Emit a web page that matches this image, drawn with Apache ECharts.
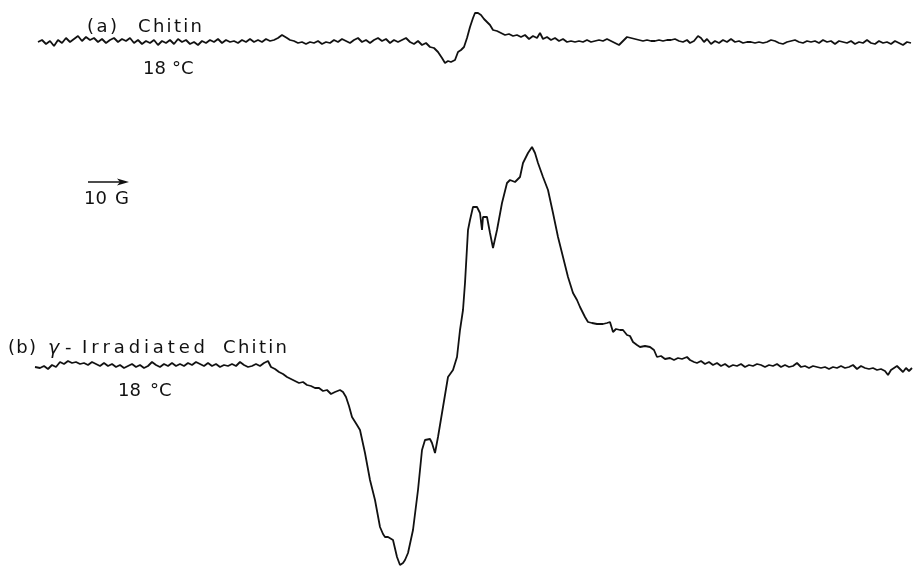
<!DOCTYPE html>
<html><head><meta charset="utf-8">
<script src="https://cdn.jsdelivr.net/npm/echarts@6/dist/echarts.min.js"></script>
<style>html,body{margin:0;padding:0;background:#fff}#c{width:913px;height:568px}</style>
</head><body><div id="c"></div>
<script>
// Field axis in 0.25 G steps (arrow = 10 G = 40 steps); signal in arbitrary units
const specA = [[38,0],[42,2],[46,-2],[50,1],[54,-4],[58,2],[62,-1],[66,4],[70,0],[74,3],[78,6],[82,1],[86,5],[90,2],[94,4],[98,0],[102,3],[106,-1],[110,2],[114,4],[118,0],[122,3],[126,1],[130,4],[134,-1],[138,2],[142,-2],[146,1],[150,-1],[154,2],[158,-3],[162,1],[166,-1],[170,2],[174,-2],[178,3],[182,0],[186,2],[190,-2],[194,0],[198,-3],[202,1],[206,-1],[210,2],[214,0],[218,3],[222,-1],[226,2],[230,0],[234,1],[238,-1],[242,2],[246,0],[250,3],[254,0],[258,2],[262,0],[266,3],[270,1],[274,2],[278,4],[282,7],[284,9],[287,4],[290,2],[294,1],[298,-1],[302,0],[306,-2],[310,0],[314,-1],[318,1],[322,-2],[326,0],[330,-1],[334,2],[338,0],[342,3],[346,1],[350,-1],[354,2],[358,4],[362,0],[366,2],[370,-1],[374,2],[378,4],[382,1],[386,3],[390,-1],[394,2],[398,0],[402,2],[406,4],[410,0],[414,-2],[418,1],[422,-3],[426,-1],[430,-5],[434,-6],[438,-10],[442,-16],[445,-21],[448,-19],[451,-20],[455,-18],[458,-10],[461,-8],[464,-5],[467,4],[470,15],[473,24],[475,29],[478,29],[481,27],[484,23],[487,20],[490,17],[493,12],[497,11],[501,9],[505,7],[509,8],[513,6],[517,7],[521,5],[525,7],[529,3],[533,6],[537,4],[540,9],[543,3],[547,5],[551,2],[555,4],[559,1],[563,3],[567,0],[571,1],[575,0],[579,1],[583,0],[587,2],[591,0],[595,1],[599,2],[603,1],[607,3],[611,1],[615,-1],[619,-3],[623,1],[627,5],[631,4],[635,3],[639,2],[643,1],[647,2],[651,1],[655,1],[659,2],[663,1],[667,2],[671,2],[675,3],[679,1],[683,0],[687,2],[690,-1],[694,1],[698,6],[701,4],[704,0],[707,3],[711,-2],[715,1],[719,-1],[723,2],[727,0],[731,3],[735,0],[739,1],[743,-1],[747,0],[751,0],[755,-1],[759,0],[763,-1],[767,0],[771,2],[775,1],[779,-1],[783,-2],[787,0],[791,1],[795,2],[799,0],[803,-1],[807,1],[811,0],[815,1],[819,-1],[823,2],[827,0],[831,1],[835,-2],[839,1],[843,0],[847,-1],[851,1],[855,-2],[859,0],[863,-1],[867,2],[871,-1],[875,-2],[879,1],[883,-1],[887,0],[891,-2],[895,1],[899,-1],[903,-3],[907,0],[911,-1]];

const specB = [[35,1],[40,0],[44,2],[48,-1],[52,3],[56,1],[60,6],[64,4],[68,7],[72,5],[76,6],[80,4],[84,5],[88,3],[92,6],[96,4],[100,2],[104,5],[108,2],[112,4],[116,1],[120,3],[124,0],[128,2],[132,4],[136,1],[140,3],[144,0],[148,2],[152,6],[156,3],[160,1],[164,4],[168,2],[172,5],[176,2],[180,4],[184,2],[188,5],[192,3],[196,6],[200,4],[204,2],[208,5],[212,2],[216,4],[220,1],[224,3],[228,2],[232,4],[236,2],[240,6],[244,3],[248,1],[252,2],[256,4],[260,2],[264,5],[268,7],[271,1],[275,-1],[279,-4],[283,-6],[287,-9],[291,-11],[295,-13],[299,-15],[303,-14],[307,-17],[311,-18],[315,-20],[319,-20],[323,-23],[327,-22],[331,-26],[335,-24],[340,-22],[343,-24],[346,-29],[349,-38],[352,-49],[357,-57],[360,-62],[365,-85],[370,-112],[375,-132],[380,-159],[383,-166],[385,-169],[388,-169],[390,-170],[393,-172],[395,-174],[397,-189],[400,-197],[403,-195],[405,-192],[408,-185],[413,-162],[418,-122],[422,-82],[425,-72],[427,-70],[430,-71],[432,-75],[435,-85],[438,-69],[443,-39],[448,-9],[453,-2],[457,11],[460,38],[463,58],[465,85],[468,138],[470,148],[473,161],[477,161],[480,155],[482,138],[483,151],[485,152],[487,151],[490,135],[493,120],[497,138],[502,165],[507,185],[510,188],[512,188],[515,186],[517,185],[520,191],[523,205],[528,215],[532,221],[535,215],[538,205],[543,191],[548,178],[553,155],[558,131],[563,111],[568,91],[573,75],[577,68],[580,61],[585,51],[588,46],[592,45],[597,44],[603,44],[607,45],[610,46],[613,36],[616,39],[620,38],[623,38],[627,33],[630,32],[633,26],[637,23],[640,21],[645,22],[650,21],[654,18],[657,11],[661,12],[665,9],[670,10],[674,8],[678,10],[682,9],[687,11],[690,8],[694,6],[697,5],[701,7],[705,4],[709,6],[713,3],[717,5],[721,2],[725,4],[729,1],[733,3],[737,2],[741,4],[745,1],[749,3],[753,2],[757,4],[761,3],[765,1],[769,3],[773,2],[777,4],[781,1],[785,3],[789,1],[793,2],[797,5],[801,1],[805,2],[809,0],[813,2],[817,1],[821,0],[825,1],[829,-1],[833,1],[837,0],[841,2],[845,0],[849,1],[853,3],[857,-1],[861,2],[865,0],[869,-1],[873,0],[877,-2],[881,-1],[885,-3],[888,-7],[891,-2],[894,0],[897,2],[900,-1],[903,-4],[906,0],[909,-3],[912,0]];

const labelA = ['(a)', 'Chitin'];
const labelB = ['(b)', 'γ', '-', 'Irradiated', 'Chitin'];
const tempLabel = ['18', '°C'];
const scaleLabel = ['10', 'G'];

const FAMILY = 'DejaVu Sans';
// draw a word so that it fills [x0, x1] by letter spacing
function word(s, x0, x1, yMid, size, italic) {
  const ctx = document.createElement('canvas').getContext('2d');
  ctx.font = (italic ? 'italic ' : '') + size + 'px "' + FAMILY + '"';
  const chars = s.split('');
  const widths = chars.map(c => ctx.measureText(c).width);
  const total = widths.reduce((a, b) => a + b, 0);
  const gap = chars.length > 1 ? Math.max(0, (x1 - x0 - total) / (chars.length - 1)) : 0;
  const out = [];
  let x = x0;
  chars.forEach((c, i) => {
    out.push({type:'text', x:x, y:yMid, style:{
      text:c, fill:'#111', fontSize:size, fontFamily:FAMILY,
      fontStyle: italic ? 'italic' : 'normal', verticalAlign:'middle', textVerticalAlign:'middle'}});
    x += widths[i] + gap;
  });
  return out;
}

const g = [].concat(
  word(labelA[0], 87, 117, 27, 18),
  word(labelA[1], 138, 202, 27, 18),
  word(tempLabel[0], 143, 162, 69, 18),
  word(tempLabel[1], 172, 191, 69, 18),
  word(scaleLabel[0], 84, 103, 199, 18),
  word(scaleLabel[1], 115, 128, 199, 18),
  word(labelB[0], 8, 36, 348, 18),
  word(labelB[1], 48, 61, 349, 19, true),
  word(labelB[2], 65, 72, 348, 18),
  word(labelB[3], 82, 205, 348, 18),
  word(labelB[4], 223, 287, 348, 18),
  word(tempLabel[0], 118, 138, 391, 18),
  word(tempLabel[1], 150, 170, 391, 18),
  [
    {type:'line', shape:{x1:88,y1:182,x2:124,y2:182}, style:{stroke:'#111', lineWidth:1.6}},
    {type:'polygon', shape:{points:[[117,178.5],[129,182],[117,185.5],[120,182]]}, style:{fill:'#111'}}
  ]
);

const chart = echarts.init(document.getElementById('c'), null, {renderer:'canvas'});
chart.setOption({
  animation:false,
  backgroundColor:'#fff',
  grid:[{left:0,right:0,top:0,bottom:0},{left:0,right:0,top:0,bottom:0}],
  xAxis:[{type:'value',min:0,max:913,show:false,gridIndex:0},{type:'value',min:0,max:913,show:false,gridIndex:1}],
  yAxis:[{type:'value',min:-526,max:42,show:false,gridIndex:0},{type:'value',min:-200,max:368,show:false,gridIndex:1}],
  series:[
    {type:'line',xAxisIndex:0,yAxisIndex:0,data:specA,showSymbol:false,smooth:false,lineStyle:{color:'#111',width:1.8}},
    {type:'line',xAxisIndex:1,yAxisIndex:1,data:specB,showSymbol:false,smooth:false,lineStyle:{color:'#111',width:1.8}}
  ],
  graphic:g
});
</script></body></html>
